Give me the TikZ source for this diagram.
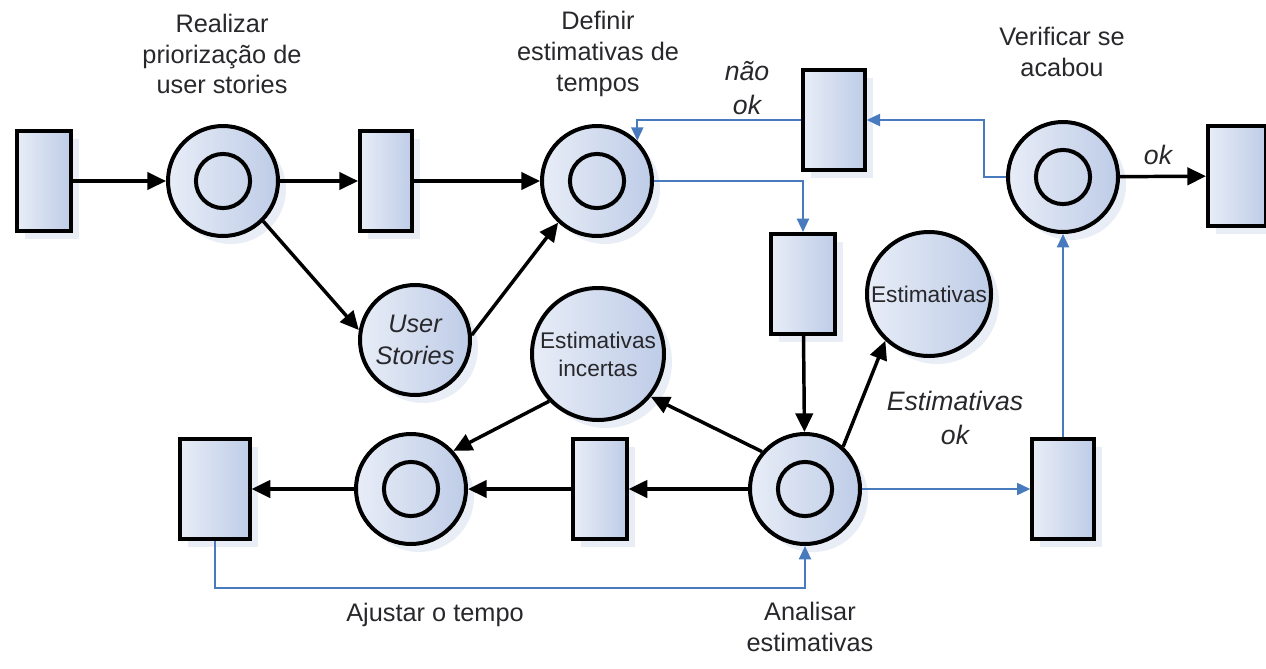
\documentclass[tikz,border=0pt]{standalone}
\usepackage{fontspec}
\setmainfont{Liberation Sans}
\usetikzlibrary{arrows.meta,shadows}
\definecolor{netlight}{RGB}{232,237,247}
\definecolor{netdark}{RGB}{190,204,231}
\definecolor{netshadow}{RGB}{210,220,238}
\definecolor{netblue}{RGB}{72,122,190}
\definecolor{nettext}{RGB}{40,40,44}
\begin{document}
\begin{tikzpicture}[x=0.75pt,y=-0.75pt,
    trans/.style={draw,line width=3pt,left color=netlight,right color=netdark,
      drop shadow={fill=netshadow,shadow xshift=6pt,shadow yshift=-6pt},
      minimum width=42pt,minimum height=75pt,inner sep=0pt},
    res/.style={circle,draw,line width=3pt,left color=netlight,right color=netdark,
      drop shadow={fill=netshadow,shadow xshift=6pt,shadow yshift=-6pt},
      inner sep=0pt,align=center,text=nettext,font=\fontsize{17}{21}\selectfont},
    place/.style={res,minimum size=82.5pt,
      path picture={\draw[line width=3pt] (path picture bounding box.center) circle (20.3pt);}},
    lab/.style={align=center,text=nettext,font=\fontsize{19}{23}\selectfont},
    cond/.style={lab,font=\fontsize{20}{25}\selectfont\itshape},
    flow/.style={line width=2.6pt,-{Triangle[length=14pt,width=13pt]}},
    link/.style={netblue,line width=1.6pt,-{Triangle[length=10pt,width=9pt]}}]
  \useasboundingbox (0,0) rectangle (1266,668);
  % places and transitions
  \node[trans,minimum width=40.5pt] (r1) at (44,181) {};
  \node[place] (p1) at (223,181) {};
  \node[trans,minimum width=39pt] (r2) at (386,181) {};
  \node[place] (p2) at (597,181) {};
  \node[trans,minimum width=46pt] (r3) at (834,120) {};
  \node[place] (p3) at (1063,177) {};
  \node[trans,minimum width=43.5pt] (r4) at (1237,176) {};
  \node[trans,minimum width=47.5pt] (r5) at (803,284) {};
  \node[res,minimum size=82.5pt,font=\fontsize{19}{24}\selectfont\itshape] (us) at (415,340) {User\\Stories};
  \node[res,minimum size=99pt] (ei) at (598,354) {Estimativas\\incertas};
  \node[res,minimum size=93pt] (es) at (929,294) {Estimativas};
  \node[place] (p4) at (805,489) {};
  \node[trans,minimum width=46pt] (r6) at (1063,489) {};
  \node[trans,minimum width=40pt] (r7) at (600,489) {};
  \node[place] (p5) at (411,489) {};
  \node[trans,minimum width=52pt] (r8) at (215,489) {};
  \coordinate (bot) at (0,588);
  % labels
  \node[lab] (t1) at (222,54) {Realizar\\priorização de\\user stories};
  \node[lab] (t2) at (598,54) {Definir\\estimativas de\\tempos};
  \node[lab] (t3) at (1062,52) {Verificar se\\acabou};
  \node[lab] (t4) at (435,615) {Ajustar o tempo};
  \node[lab] (t5) at (810,627) {Analisar\\estimativas};
  \node[cond] (c1) at (747,88) {não\\ok};
  \node[cond] (c2) at (1158,155) {ok};
  \node[cond] (c3) at (955,418) {Estimativas\\ok};
  % black arcs
  \draw[flow] (r1) -- (p1);
  \draw[flow] (p1) -- (r2);
  \draw[flow] (r2) -- (p2);
  \draw[flow] (p1.-45) -- (us.170);
  \draw[flow] (us.5) -- (p2.227);
  \draw[flow] (r5) -- (p4);
  \draw[flow] (p4.48) -- (es.227);
  \draw[flow] (p4.139) -- (ei.-39);
  \draw[flow] (ei.224) -- (p5.42);
  \draw[flow] (p4) -- (r7);
  \draw[flow] (r7) -- (p5);
  \draw[flow] (p5) -- (r8);
  \draw[flow] (p3) -- (r4);
  % blue arcs
  \draw[link] (p2.east) -| (r5.north);
  \draw[link] (r3.west) -| (p2.45);
  \draw[link] (p3.west) -- ++(-22,0) |- (r3.east);
  \draw[link] (r6.north) -- (p3.south);
  \draw[link] (p4.east) -- (r6.west);
  \draw[link] (r8.south) -- (r8.south |- bot) -| (p4.south);
\end{tikzpicture}
\end{document}
